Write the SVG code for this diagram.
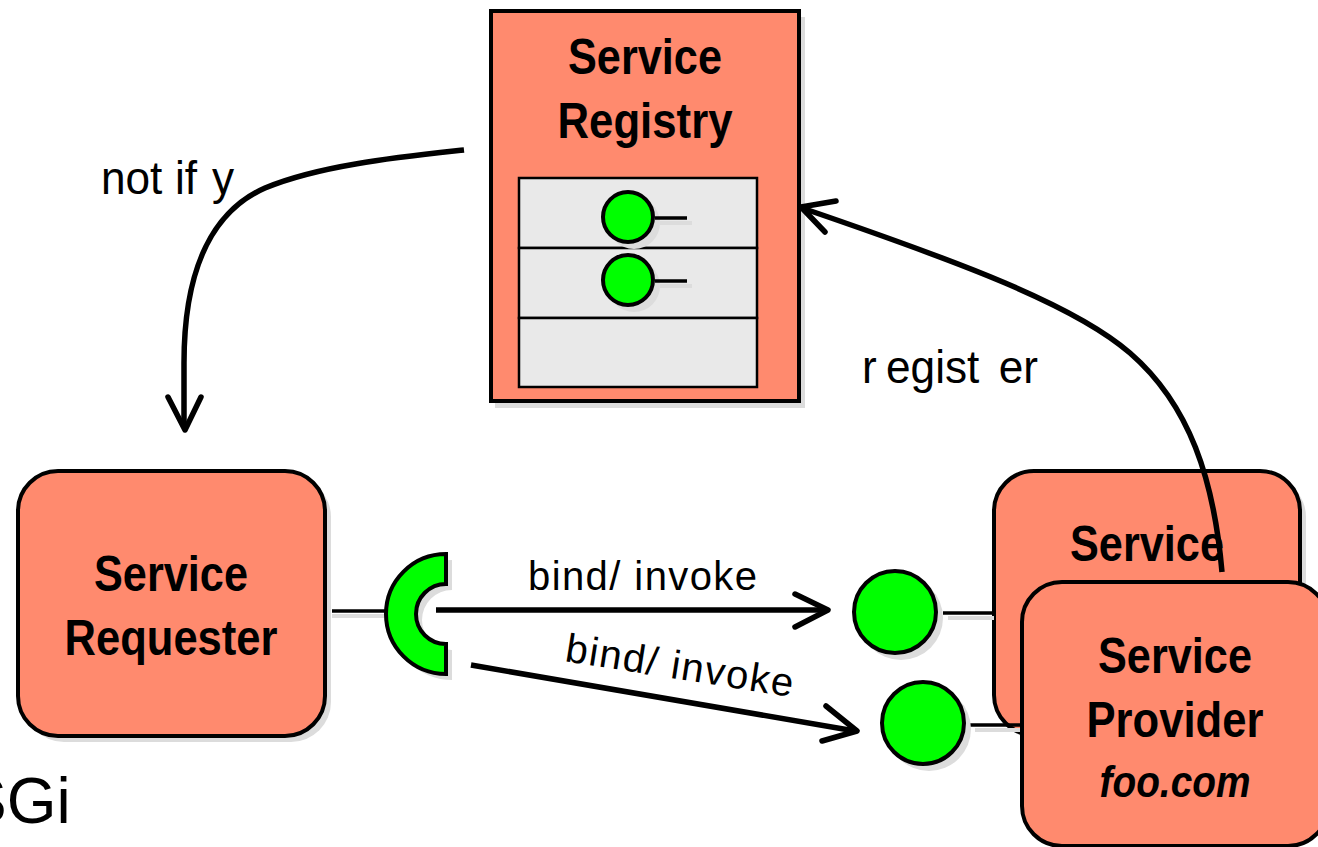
<svg xmlns="http://www.w3.org/2000/svg" width="1318" height="847" viewBox="0 0 1318 847">
<style>
text{font-family:"Liberation Sans",Arial,sans-serif;fill:#000}
.t{font-weight:700;font-size:50px;text-anchor:middle}
.l{font-size:47px}
.b{font-size:40px}
.n{fill:#ff8a6e;stroke:#000;stroke-width:4}
.s{fill:#dcdcdc;stroke:none}
.g{fill:#00ff00;stroke:#000;stroke-width:4}
.c{fill:#e9e9e9;stroke:#000;stroke-width:2.5}
.w{fill:none;stroke:#000;stroke-width:3.5}
.ws{fill:none;stroke:#dcdcdc;stroke-width:4}
.a{fill:none;stroke:#000;stroke-width:5.5;stroke-linecap:round;stroke-linejoin:round}
.ab{fill:none;stroke:#000;stroke-width:5.5}
</style>
<g id="registry">
<rect class="s" x="495" y="17" width="310" height="391"/>
<rect class="n" x="491" y="11" width="308" height="390"/>
<text class="t" x="645" y="74" textLength="154" lengthAdjust="spacingAndGlyphs">Service</text>
<text class="t" x="645" y="138" textLength="175" lengthAdjust="spacingAndGlyphs">Registry</text>
<rect class="c" x="519" y="178" width="238" height="70"/>
<rect class="c" x="519" y="248" width="238" height="70"/>
<rect class="c" x="519" y="318" width="238" height="69"/>
<circle class="s" cx="634" cy="223" r="26"/>
<circle class="g" cx="628" cy="217" r="25"/>
<path class="ws" d="M660 223H692M660 286H692"/>
<circle class="s" cx="634" cy="286" r="26"/>
<circle class="g" cx="628" cy="280" r="25"/>
<path class="w" d="M655 218H687M655 281H687"/>
</g>
<g id="requester">
<rect class="s" x="24" y="477" width="307" height="265" rx="40"/>
<rect class="n" x="18" y="471" width="307" height="265" rx="40"/>
<text class="t" x="171" y="591" textLength="154" lengthAdjust="spacingAndGlyphs">Service</text>
<text class="t" x="171" y="655" textLength="213" lengthAdjust="spacingAndGlyphs">Requester</text>
</g>
<g id="requester-socket">
<path class="ws" d="M332 616H392"/>
<path class="w" d="M332 611H386"/>
<path class="s" d="M452 560A60 60 0 0 0 452 680V650A30 30 0 0 1 452 590Z"/>
<path class="g" d="M446 554A60 60 0 0 0 446 674V644A30 30 0 0 1 446 584Z"/>
</g>
<g id="provider-back">
<rect class="s" x="1000" y="477" width="306" height="264" rx="40"/>
<rect class="n" x="994" y="471" width="306" height="264" rx="40"/>
<text class="t" x="1147" y="561" textLength="154" lengthAdjust="spacingAndGlyphs">Service</text>
</g>
<g id="port-1">
<path class="ws" d="M948 618H994"/>
<path class="w" d="M943 613H994"/>
<circle class="s" cx="901" cy="618" r="42"/>
<circle class="g" cx="895" cy="612" r="41"/>
</g>
<g id="port-2">
<path class="ws" d="M975 730H1022"/>
<path class="w" d="M970 725H1022"/>
<circle class="s" cx="929" cy="729" r="42"/>
<circle class="g" cx="923" cy="723" r="41"/>
</g>
<g id="provider-front">
<rect class="n" x="1022" y="582" width="306" height="264" rx="40"/>
<text class="t" x="1175" y="673" textLength="154" lengthAdjust="spacingAndGlyphs">Service</text>
<text class="t" x="1175" y="737" textLength="177" lengthAdjust="spacingAndGlyphs">Provider</text>
<text class="t" x="1175" y="797" font-style="italic" style="font-size:44px" textLength="151" lengthAdjust="spacingAndGlyphs">foo.com</text>
</g>
<g id="connectors">
<path class="ab" d="M464 150C400 157 320 165 265 188C215 210 184 265 184 363V428"/>
<path class="a" d="M168 397L185 430L201 397"/>
<path class="ab" d="M1222 572C1214 480 1190 405 1130 353C1075 305 960 262 802 208"/>
<path class="a" d="M836 201L801 207L825 232"/>
<path class="ab" d="M436 610H826"/>
<path class="a" d="M795 594L828 610L795 627"/>
<path class="ab" d="M471 665L855 731"/>
<path class="a" d="M826 706L857 731L822 741"/>
</g>
<g id="labels">
<text class="l" transform="scale(.94 1)" y="194"><tspan x="107.4">not</tspan><tspan x="186.2">if</tspan><tspan x="225.5">y</tspan></text>
<text class="l" transform="scale(.94 1)" y="383"><tspan x="917">r</tspan><tspan x="942.6">egist</tspan><tspan x="1062.5">er</tspan></text>
<text class="b" x="528" y="590" textLength="229">bind/ invoke</text>
<text class="b" transform="translate(564 661) rotate(9)" textLength="230">bind/ invoke</text>
<text x="-36" y="823" style="font-size:64px">SGi</text>
</g>
</svg>
